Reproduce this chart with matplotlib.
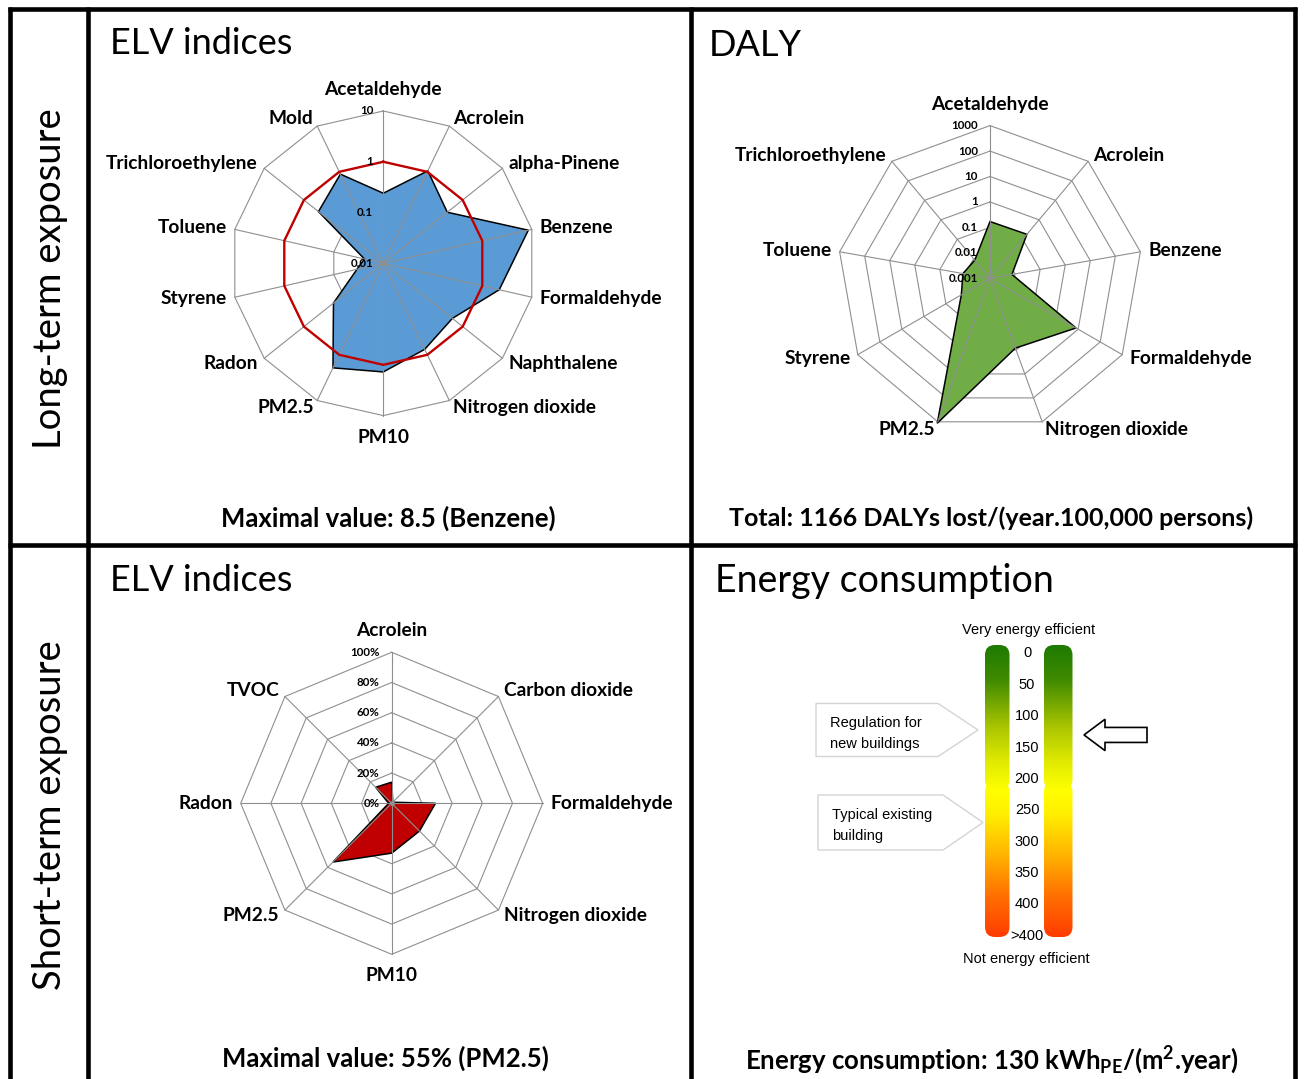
import numpy as np
import matplotlib
matplotlib.use('Agg')
import matplotlib.pyplot as plt
from matplotlib.patches import Polygon, FancyBboxPatch
from matplotlib.colors import LinearSegmentedColormap

# ---------------- data ----------------
long_elv_cats = ['Acetaldehyde', 'Acrolein', 'alpha-Pinene', 'Benzene', 'Formaldehyde',
                 'Naphthalene', 'Nitrogen dioxide', 'PM10', 'PM2.5', 'Radon', 'Styrene',
                 'Toluene', 'Trichloroethylene', 'Mold']
long_elv_vals = [0.24, 1.05, 0.41, 8.5, 2.2, 0.55, 0.76, 1.38, 1.93, 0.18, 0.034, 0.024, 0.43, 0.89]
long_elv_threshold = 1.0
long_elv_rings = [0.01, 0.1, 1, 10]
long_elv_ring_labels = ['0.01', '0.1', '1', '10']

daly_cats = ['Acetaldehyde', 'Acrolein', 'Benzene', 'Formaldehyde', 'Nitrogen dioxide',
             'PM2.5', 'Styrene', 'Toluene', 'Trichloroethylene']
daly_vals = [0.17, 0.18, 0.0075, 8.0, 0.83, 1150, 0.02, 0.012, 0.0085]
daly_rings = [0.001, 0.01, 0.1, 1, 10, 100, 1000]
daly_ring_labels = ['0.001', '0.01', '0.1', '1', '10', '100', '1000']

short_elv_cats = ['Acrolein', 'Carbon dioxide', 'Formaldehyde', 'Nitrogen dioxide',
                  'PM10', 'PM2.5', 'Radon', 'TVOC']
short_elv_vals = [14, 1, 29, 26, 33, 55, 2, 15]
short_elv_rings = [0, 20, 40, 60, 80, 100]
short_elv_ring_labels = ['0%', '20%', '40%', '60%', '80%', '100%']

energy_tick_vals = [0, 50, 100, 150, 200, 250, 300, 350, 400, 450]
energy_tick_labels = ['0', '50', '100', '150', '200', '250', '300', '350', '400', '>400']
energy_value = 130

# ---------------- setup ----------------
W, H = 1304, 1079
plt.rcParams['font.family'] = ['Lato', 'DejaVu Sans']
plt.rcParams['mathtext.fontset'] = 'custom'
plt.rcParams['mathtext.rm'] = 'Lato:bold'
plt.rcParams['mathtext.it'] = 'Lato:bold'
plt.rcParams['mathtext.bf'] = 'Lato:bold'

fig = plt.figure(figsize=(W / 100, H / 100), dpi=100)
bg = fig.add_axes([0, 0, 1, 1])
bg.set_xlim(0, W)
bg.set_ylim(H, 0)
bg.axis('off')


def frect(x0, y0, w, h):
    return [x0 / W, 1 - (y0 + h) / H, w / W, h / H]


PX = 72 / 100  # points per pixel
GRID = '#8f8f8f'

# ---------------- frame ----------------
lw_frame = 3.3
for xs, ys in [([8, 1297], [8.5, 8.5]), ([8, 1297], [545, 545]),
               ([9.5, 9.5], [7, H + 5]), ([87.5, 87.5], [7, H + 5]),
               ([690.5, 690.5], [7, H + 5]), ([1294.5, 1294.5], [7, H + 5])]:
    bg.plot(xs, ys, color='black', lw=lw_frame, solid_capstyle='butt', zorder=5)

# row labels
bg.text(50, 279, 'Long-term exposure', rotation=90, ha='center', va='center', fontsize=27.5)
bg.text(50, 815, 'Short-term exposure', rotation=90, ha='center', va='center', fontsize=27.5)

# panel titles
TFS = 26
bg.text(110, 53.5, 'ELV indices', fontsize=TFS, va='baseline')
bg.text(709, 56, 'DALY', fontsize=TFS, va='baseline')
bg.text(110, 591, 'ELV indices', fontsize=TFS, va='baseline')
bg.text(715, 592, 'Energy consumption', fontsize=TFS + 1, va='baseline')

# bottom summary texts
BFS = 18.5
bg.text(388, 518, 'Maximal value: 8.5 (Benzene)', fontsize=BFS, fontweight='bold', ha='center', va='center')
bg.text(991, 518, 'Total: 1166 DALYs lost/(year.100,000 persons)', fontsize=BFS - 0.5, fontweight='bold',
        ha='center', va='center')
bg.text(385, 1058, 'Maximal value: 55% (PM2.5)', fontsize=BFS, fontweight='bold', ha='center', va='center')
bg.text(992, 1060, r'Energy consumption: 130 kWh$_{\mathrm{PE}}$/(m$^{\mathrm{2}}$.year)', fontsize=BFS,
        fontweight='bold', ha='center', va='center')


# ---------------- radar helper ----------------
def radar(cx, cy, R, cats, vals, rings, ring_labels, log, color, threshold=None,
          ring_label_dx=10, label_fs=13.8):
    ax = fig.add_axes(frect(cx - R, cy - R, 2 * R, 2 * R), projection='polar')
    ax.set_theta_zero_location('N')
    ax.set_theta_direction(-1)
    if log:
        ax.set_rscale('log')
    rmin, rmax = rings[0], rings[-1]
    ax.set_rlim(rmin, rmax)
    ax.grid(False)
    ax.set_xticks([])
    ax.set_yticks([])
    ax.spines['polar'].set_visible(False)
    ax.patch.set_alpha(0)
    n = len(cats)
    theta = np.arange(n) * 2 * np.pi / n
    tc = np.append(theta, theta[0])
    for rg in rings[1:]:
        ax.plot(tc, [rg] * (n + 1), color=GRID, lw=0.8, zorder=1, clip_on=False)
    v = np.array(vals, dtype=float)
    ax.fill(tc, np.append(v, v[0]), facecolor=color, edgecolor='black', lw=1.1, zorder=2,
            clip_on=False)
    for t in theta:
        ax.plot([t, t], [rmin, rmax], color=GRID, lw=0.8, zorder=3, clip_on=False)
    if threshold is not None:
        ax.plot(tc, [threshold] * (n + 1), color='#C00000', lw=1.7, zorder=4, clip_on=False)
    ax.plot([0], [rmin], marker='o', ms=2.5, color=GRID, zorder=4, clip_on=False)
    for rg, lab in zip(rings, ring_labels):
        ax.annotate(lab, xy=(0, rg), xytext=(-ring_label_dx * PX, 0), textcoords='offset points',
                    ha='right', va='center', fontsize=8.3, fontweight='bold',
                    annotation_clip=False, zorder=5)
    for t, lab in zip(theta, cats):
        s, c = np.sin(t), np.cos(t)
        if abs(s) < 0.05:
            ha = 'center'
            va = 'bottom' if c > 0 else 'top'
            off = (0, 13 * PX * np.sign(c))
        else:
            ha = 'left' if s > 0 else 'right'
            va = 'center'
            off = (8 * s * PX, 8 * c * PX)
        ax.annotate(lab, xy=(t, rmax), xytext=off, textcoords='offset points', ha=ha, va=va,
                    fontsize=label_fs, fontweight='bold', annotation_clip=False)
    return ax


radar(383.3, 263.3, 152.3, long_elv_cats, long_elv_vals, long_elv_rings, long_elv_ring_labels,
      True, '#5B9BD5', threshold=long_elv_threshold, ring_label_dx=10)
radar(990, 278.3, 152.7, daly_cats, daly_vals, daly_rings, daly_ring_labels,
      True, '#70AD47', ring_label_dx=12)
radar(391.7, 803.3, 151, short_elv_cats, short_elv_vals, short_elv_rings, short_elv_ring_labels,
      False, '#C00000', ring_label_dx=12)

# ---------------- energy gauge ----------------
ARIAL = ['Liberation Sans', 'DejaVu Sans']
v0px, pxper = 653.3, 0.628   # pixel of value 0, pixels per kWh unit


def v_of_px(p):
    return (p - v0px) / pxper


eax = fig.add_axes(frect(700, 600, 590, 400))
eax.axis('off')

cmap = LinearSegmentedColormap.from_list('energy', [
    (0.0, '#1d7a00'), (0.12, '#3f8a00'), (0.28, '#a9c400'), (0.40, '#e0ea00'),
    (0.50, '#ffff00'), (0.58, '#ffef00'), (0.72, '#ffb400'), (0.86, '#ff7000'),
    (1.0, '#ff3c00')])
grad = np.linspace(0, 1, 256).reshape(-1, 1)
top_px, bot_px = 645, 937
segments = [(645, 790), (782, 937)]
for x0, x1 in [(985, 1009.5), (1044, 1072.5)]:
    for (a, b) in segments:
        im = eax.imshow(grad, cmap=cmap, extent=(x0, x1, v_of_px(bot_px), v_of_px(top_px)),
                        origin='upper', aspect='auto', interpolation='bilinear', zorder=1)
        clip = FancyBboxPatch((x0, v_of_px(a)), x1 - x0, v_of_px(b) - v_of_px(a),
                              boxstyle='round,pad=0,rounding_size=10', mutation_aspect=1 / pxper,
                              transform=eax.transData, facecolor='none', edgecolor='none')
        im.set_clip_path(clip)

for v, lab in zip(energy_tick_vals, energy_tick_labels):
    eax.text(1027, v, lab, ha='center', va='center', fontsize=10.5, family=ARIAL, zorder=3)

# arrow pointing at the building value
hh, sh = 15.7 / pxper, 7.5 / pxper
arrow = Polygon([(1084, energy_value), (1105, energy_value - hh), (1105, energy_value - sh),
                 (1147, energy_value - sh), (1147, energy_value + sh), (1105, energy_value + sh),
                 (1105, energy_value + hh)], closed=True, facecolor='white', edgecolor='black',
                lw=1.2, zorder=3)
eax.add_patch(arrow)

eax.set_autoscale_on(False)
eax.set_xlim(700, 1290)
eax.set_ylim(v_of_px(1000), v_of_px(600))

bg.text(1029, 630, 'Very energy efficient', ha='center', va='center', fontsize=10.5, family=ARIAL)
bg.text(1026, 959, 'Not energy efficient', ha='center', va='center', fontsize=10.5, family=ARIAL)

# callout boxes
for (l, r_, tip, t_, b_, tipy), lines, ys in [
        ((816, 938, 978, 703.5, 756.5, 730), ['Regulation for', 'new buildings'], [723, 744]),
        ((818, 943, 983, 795, 850, 822.5), ['Typical existing', 'building'], [815, 836])]:
    bg.add_patch(Polygon([(l, t_), (r_, t_), (tip, tipy), (r_, b_), (l, b_)], closed=True,
                         facecolor='white', edgecolor='#d4d4d4', lw=1.0, zorder=2))
    x_text = l + 14
    for txt, yy in zip(lines, ys):
        bg.text(x_text, yy, txt, ha='left', va='center', fontsize=10.5, family=ARIAL, zorder=3)

fig.savefig('out.png', dpi=100)
